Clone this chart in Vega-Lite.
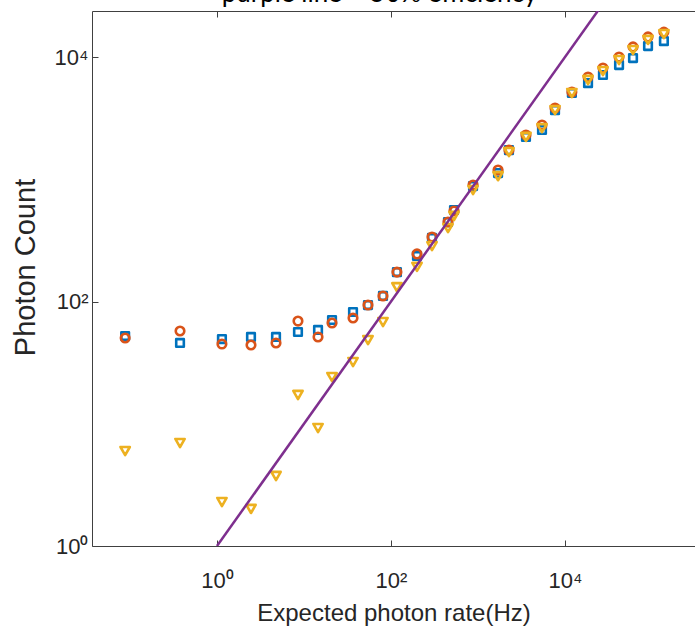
{
  "$schema": "https://vega.github.io/schema/vega-lite/v6.json",
  "autosize": {"type": "none"},
  "padding": {"left": 92, "top": 11, "right": 0, "bottom": 84},
  "width": 603,
  "height": 535,
  "background": "white",
  "title": {"text": "purple line = 50% efficiency", "font": "Lato", "fontSize": 26, "fontWeight": "normal", "color": "#000000", "anchor": "middle", "frame": "group", "baseline": "alphabetic", "offset": 3, "dx": -14, "dy": 20},
  "config": {
    "view": {"stroke": null},
    "axis": {"labelFont": "Liberation Sans", "titleFont": "Liberation Sans", "labelFontSize": 22, "titleFontSize": 24, "titleFontWeight": "normal", "labelColor": "#262626", "titleColor": "#262626", "domainColor": "#404040", "tickColor": "#404040", "tickWidth": 1, "grid": false}
  },
  "datasets": {
    "points": [
      {"rate": 0.088, "count": 52.2, "series": "S1"},
      {"rate": 0.376, "count": 45.8, "series": "S1"},
      {"rate": 1.14, "count": 49.3, "series": "S1"},
      {"rate": 2.46, "count": 51.3, "series": "S1"},
      {"rate": 4.77, "count": 51.3, "series": "S1"},
      {"rate": 8.53, "count": 56.3, "series": "S1"},
      {"rate": 14.5, "count": 58.5, "series": "S1"},
      {"rate": 21.0, "count": 70.6, "series": "S1"},
      {"rate": 36.6, "count": 82.1, "series": "S1"},
      {"rate": 54.4, "count": 93.6, "series": "S1"},
      {"rate": 80.9, "count": 111, "series": "S1"},
      {"rate": 117, "count": 174, "series": "S1"},
      {"rate": 199, "count": 236, "series": "S1"},
      {"rate": 296, "count": 331, "series": "S1"},
      {"rate": 452, "count": 447, "series": "S1"},
      {"rate": 530, "count": 560, "series": "S1"},
      {"rate": 877, "count": 880, "series": "S1"},
      {"rate": 1700, "count": 1125, "series": "S1"},
      {"rate": 2270, "count": 1730, "series": "S1"},
      {"rate": 3560, "count": 2220, "series": "S1"},
      {"rate": 5440, "count": 2530, "series": "S1"},
      {"rate": 7680, "count": 3680, "series": "S1"},
      {"rate": 12000, "count": 5080, "series": "S1"},
      {"rate": 18400, "count": 6120, "series": "S1"},
      {"rate": 27300, "count": 7130, "series": "S1"},
      {"rate": 41800, "count": 8600, "series": "S1"},
      {"rate": 60500, "count": 9810, "series": "S1"},
      {"rate": 90000, "count": 12300, "series": "S1"},
      {"rate": 137000, "count": 13500, "series": "S1"},
      {"rate": 0.088, "count": 50.3, "series": "S2"},
      {"rate": 0.376, "count": 57.4, "series": "S2"},
      {"rate": 1.14, "count": 44.9, "series": "S2"},
      {"rate": 2.46, "count": 44.1, "series": "S2"},
      {"rate": 4.77, "count": 45.8, "series": "S2"},
      {"rate": 8.53, "count": 69.2, "series": "S2"},
      {"rate": 14.5, "count": 51.3, "series": "S2"},
      {"rate": 21.0, "count": 66.7, "series": "S2"},
      {"rate": 36.6, "count": 73.3, "series": "S2"},
      {"rate": 54.4, "count": 93.6, "series": "S2"},
      {"rate": 80.9, "count": 111, "series": "S2"},
      {"rate": 117, "count": 174, "series": "S2"},
      {"rate": 199, "count": 245, "series": "S2"},
      {"rate": 296, "count": 337, "series": "S2"},
      {"rate": 452, "count": 447, "series": "S2"},
      {"rate": 530, "count": 550, "series": "S2"},
      {"rate": 877, "count": 897, "series": "S2"},
      {"rate": 1700, "count": 1190, "series": "S2"},
      {"rate": 2270, "count": 1730, "series": "S2"},
      {"rate": 3560, "count": 2300, "series": "S2"},
      {"rate": 5440, "count": 2780, "series": "S2"},
      {"rate": 7680, "count": 3830, "series": "S2"},
      {"rate": 12000, "count": 5170, "series": "S2"},
      {"rate": 18400, "count": 6860, "series": "S2"},
      {"rate": 27300, "count": 8130, "series": "S2"},
      {"rate": 41800, "count": 10000, "series": "S2"},
      {"rate": 60500, "count": 12100, "series": "S2"},
      {"rate": 90000, "count": 14600, "series": "S2"},
      {"rate": 137000, "count": 16000, "series": "S2"},
      {"rate": 0.088, "count": 5.98, "series": "S3"},
      {"rate": 0.376, "count": 6.96, "series": "S3"},
      {"rate": 1.14, "count": 2.29, "series": "S3"},
      {"rate": 2.46, "count": 2.01, "series": "S3"},
      {"rate": 4.77, "count": 3.74, "series": "S3"},
      {"rate": 8.53, "count": 17.2, "series": "S3"},
      {"rate": 14.5, "count": 9.23, "series": "S3"},
      {"rate": 21.0, "count": 24.1, "series": "S3"},
      {"rate": 36.6, "count": 32.0, "series": "S3"},
      {"rate": 54.4, "count": 48.4, "series": "S3"},
      {"rate": 80.9, "count": 68.0, "series": "S3"},
      {"rate": 117, "count": 131, "series": "S3"},
      {"rate": 199, "count": 192, "series": "S3"},
      {"rate": 296, "count": 284, "series": "S3"},
      {"rate": 452, "count": 399, "series": "S3"},
      {"rate": 530, "count": 501, "series": "S3"},
      {"rate": 877, "count": 817, "series": "S3"},
      {"rate": 1700, "count": 1060, "series": "S3"},
      {"rate": 2270, "count": 1670, "series": "S3"},
      {"rate": 3560, "count": 2220, "series": "S3"},
      {"rate": 5440, "count": 2620, "series": "S3"},
      {"rate": 7680, "count": 3680, "series": "S3"},
      {"rate": 12000, "count": 5080, "series": "S3"},
      {"rate": 18400, "count": 6490, "series": "S3"},
      {"rate": 27300, "count": 7680, "series": "S3"},
      {"rate": 41800, "count": 9450, "series": "S3"},
      {"rate": 60500, "count": 11400, "series": "S3"},
      {"rate": 90000, "count": 13800, "series": "S3"},
      {"rate": 137000, "count": 15400, "series": "S3"}
    ],
    "line": [
      {"rate": 1, "count": 1},
      {"rate": 1000000, "count": 1000000}
    ]
  },
  "layer": [
    {
      "data": {"name": "points"},
      "mark": {"type": "point", "filled": false, "strokeWidth": 2.6, "opacity": 1, "strokeJoin": "round"},
      "encoding": {
        "x": {"field": "rate", "type": "quantitative", "scale": {"type": "log", "domain": [0.0366, 312000], "nice": false},
              "axis": {"orient": "bottom", "values": [1, 100, 10000], "labelExpr": "datum.value === 1 ? '10⁰' : datum.value === 100 ? '10²' : '10⁴'", "tickSize": -6, "labelPadding": 30, "title": "Expected photon rate(Hz)", "titlePadding": 10}},
        "y": {"field": "count", "type": "quantitative", "scale": {"type": "log", "domain": [1, 23800], "nice": false},
              "axis": {"orient": "left", "values": [1, 100, 10000], "labelExpr": "datum.value === 1 ? '10⁰' : datum.value === 100 ? '10²' : '10⁴'", "tickSize": -6, "labelPadding": 10, "title": "Photon Count", "titleFontSize": 29, "titlePadding": 14, "titleY": 256}},
        "shape": {"field": "series", "type": "nominal", "scale": {"domain": ["S1", "S2", "S3"], "range": ["square", "circle", "triangle-down"]}, "legend": null},
        "color": {"field": "series", "type": "nominal", "scale": {"domain": ["S1", "S2", "S3"], "range": ["#0072BD", "#D95319", "#EDB120"]}, "legend": null},
        "size": {"field": "series", "type": "nominal", "scale": {"domain": ["S1", "S2", "S3"], "range": [58, 88, 118]}, "legend": null}
      }
    },
    {
      "data": {"name": "line"},
      "mark": {"type": "line", "color": "#7E2F8E", "strokeWidth": 2.5, "clip": true},
      "encoding": {
        "x": {"field": "rate", "type": "quantitative", "axis": {"orient": "top", "values": [1, 100, 10000], "labels": false, "tickSize": -6, "title": null}},
        "y": {"field": "count", "type": "quantitative", "axis": null}
      }
    }
  ],
  "resolve": {"axis": {"x": "independent", "y": "independent"}}
}
